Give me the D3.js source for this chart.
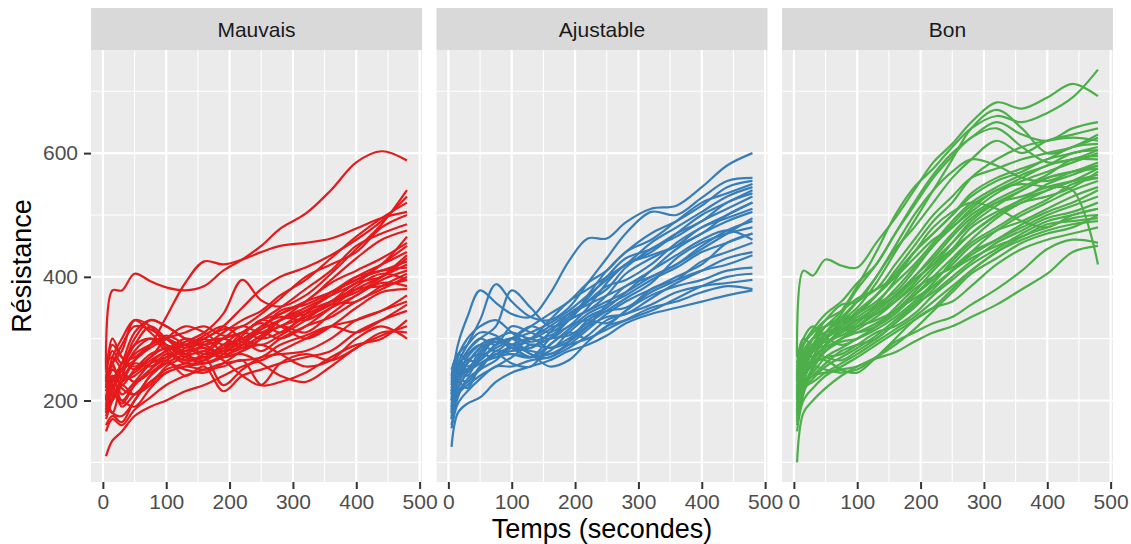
<!DOCTYPE html>
<html><head><meta charset="utf-8">
<script src="https://cdn.jsdelivr.net/npm/d3@7"></script>
<style>
html,body{margin:0;padding:0;background:#fff;}
svg{display:block;font-family:"Liberation Sans",Arial,Helvetica,sans-serif;}
</style></head>
<body>
<svg id="chart" width="1131" height="544"></svg>
<script>
// ---------------- DATA ----------------
const categories = ["Mauvais", "Ajustable", "Bon"];
const colors = ["#E41A1C", "#377EB8", "#4DAF4A"];
const timePoints = [5, 15, 30, 50, 75, 100, 130, 160, 190, 220, 250, 280, 320, 360, 400, 440, 480];
const xTicks = [0, 100, 200, 300, 400, 500];
const yTicks = [200, 400, 600];
const xLabel = "Temps (secondes)";
const yLabel = "Résistance";

const mauvais = [
  [250,378,378,405,393,383,378,385,410,428,450,478,502,540,585,603,588],
  [215,235,250,265,290,335,390,425,420,428,440,450,455,462,478,495,505],
  [200,240,225,250,275,285,295,310,340,395,362,352,370,405,445,485,540],
  [230,260,290,320,315,300,290,300,320,350,380,400,415,435,460,490,530],
  [210,200,240,280,300,290,280,290,310,330,345,370,395,430,465,495,520],
  [180,220,250,275,290,300,285,300,315,320,340,365,400,420,440,480,500],
  [245,280,260,300,330,320,300,290,300,310,330,350,380,410,450,470,485],
  [195,180,230,265,285,300,310,320,305,310,330,340,360,395,430,460,475],
  [230,300,270,250,270,285,275,280,300,285,300,330,350,370,390,420,450],
  [200,240,210,230,260,280,290,275,285,300,310,320,345,370,400,420,440],
  [170,200,230,240,260,270,280,295,300,290,305,330,340,360,390,400,430],
  [240,260,280,330,320,290,270,260,270,290,310,300,320,350,380,400,420],
  [220,250,240,260,255,270,290,300,280,290,320,335,330,350,370,395,410],
  [185,215,195,225,250,275,265,270,290,310,300,310,335,355,360,385,405],
  [205,230,260,290,300,280,260,265,290,295,280,300,320,335,360,380,400],
  [260,270,250,230,245,265,285,305,320,300,290,305,330,360,380,385,395],
  [175,205,225,210,240,260,275,285,270,280,300,320,310,340,370,390,385],
  [225,255,235,265,290,300,275,260,275,305,330,320,300,320,350,375,380],
  [110,135,150,175,190,200,215,225,240,255,265,280,300,320,330,345,370],
  [150,170,160,185,205,225,240,250,260,265,270,290,305,320,310,330,355],
  [195,225,190,210,230,250,260,270,225,250,270,275,280,300,330,345,360],
  [215,240,200,225,250,265,240,255,215,240,250,260,270,280,310,330,345],
  [160,175,165,200,230,245,255,250,255,265,225,230,245,270,290,300,330],
  [185,210,200,190,220,245,255,260,270,275,260,240,230,255,285,305,320],
  [235,260,220,210,225,255,270,280,265,240,225,260,275,265,285,310,310],
  [205,180,175,200,240,260,250,245,260,280,290,275,255,265,300,320,300],
  [250,290,270,255,270,300,320,310,290,300,320,340,360,375,395,410,415],
  [190,230,260,310,330,320,300,285,280,295,315,330,345,360,375,400,435],
  [220,270,300,330,310,285,265,275,300,320,310,330,360,390,410,430,455],
  [180,215,250,290,320,300,275,265,285,300,315,345,355,375,400,410,425],
  [240,220,260,270,290,305,290,270,280,310,325,310,340,375,395,420,465],
  [200,250,235,245,265,280,300,290,275,285,305,320,335,355,385,405,395]
];

const ajustable = [
  [225,290,335,378,358,340,335,372,425,462,462,488,510,515,545,580,600],
  [210,260,290,330,388,360,335,330,350,390,430,470,505,500,528,555,560],
  [200,250,280,300,320,378,350,320,330,370,410,440,470,490,515,545,555],
  [195,240,270,290,300,290,300,330,360,380,400,420,455,480,505,530,545],
  [180,230,260,285,295,300,310,325,345,370,395,420,440,470,500,520,540],
  [215,250,240,275,300,290,285,310,340,360,380,415,445,465,490,510,530],
  [190,220,245,265,290,300,295,305,320,350,390,420,435,450,470,500,520],
  [170,215,230,250,280,275,270,300,330,345,370,405,430,450,480,495,510],
  [230,260,250,280,295,285,270,280,310,335,350,375,410,445,470,490,505],
  [205,245,265,275,270,290,300,285,295,320,355,385,400,420,450,475,490],
  [185,230,220,255,275,280,285,300,305,325,345,365,390,430,455,470,480],
  [160,205,235,250,265,285,280,275,290,315,340,360,380,400,420,455,470],
  [240,275,265,265,290,300,275,270,295,330,345,350,375,395,425,440,455],
  [175,210,225,240,255,270,290,285,300,320,335,340,365,390,410,430,440],
  [200,235,230,255,275,260,255,290,310,300,320,345,370,385,395,410,415],
  [155,195,215,235,255,255,265,270,285,305,330,340,355,375,385,390,395],
  [215,240,250,260,270,275,270,275,290,300,315,330,350,360,375,385,380],
  [125,180,195,205,230,245,255,265,280,290,305,325,340,350,360,370,378],
  [235,265,255,270,300,290,275,255,265,295,320,330,345,365,385,400,405],
  [180,250,280,300,290,320,310,300,320,330,325,345,380,395,410,420,435],
  [250,275,290,310,305,285,300,320,340,355,370,385,410,435,460,475,460],
  [200,230,250,270,285,300,320,340,360,390,410,440,460,490,520,535,550],
  [210,270,300,320,330,310,290,300,330,360,385,395,420,455,480,500,520],
  [190,240,260,285,300,310,300,315,335,365,400,430,445,470,490,520,535],
  [220,255,275,290,280,300,320,310,330,345,360,375,400,420,445,470,495],
  [170,220,245,260,275,285,270,290,315,340,355,370,395,415,440,455,470]
];

const bon = [
  [270,410,402,428,418,415,455,495,540,585,615,650,682,672,690,712,692],
  [220,270,300,320,345,385,440,500,545,575,610,640,660,650,665,690,735],
  [240,290,315,340,360,390,420,470,520,565,600,625,650,630,620,640,650],
  [200,250,280,320,330,350,390,440,490,540,590,640,670,640,600,610,630],
  [180,230,270,300,330,360,400,445,480,520,560,590,620,600,620,630,640],
  [260,300,290,310,330,340,370,410,450,490,520,560,590,610,620,625,620],
  [210,260,280,290,310,325,355,395,440,470,500,535,560,575,590,610,615],
  [190,240,270,300,325,340,360,390,420,455,490,520,545,565,580,600,605],
  [230,280,300,310,320,335,355,375,410,450,480,505,535,555,570,585,600],
  [170,220,255,285,300,320,345,370,400,435,470,500,525,545,565,590,595],
  [250,300,320,305,315,330,350,370,395,420,455,490,520,540,560,570,585],
  [200,240,265,290,315,330,340,360,385,415,445,480,505,525,550,565,580],
  [160,210,250,280,300,310,325,345,375,410,440,470,500,520,540,555,575],
  [215,265,290,305,315,310,320,340,370,400,430,460,495,520,530,545,570],
  [185,235,260,280,295,300,315,335,360,390,425,455,480,505,525,550,560],
  [240,280,270,290,310,320,330,345,365,385,410,440,475,500,520,540,555],
  [195,230,245,270,285,300,320,345,370,395,420,450,475,490,510,530,545],
  [175,225,240,260,280,290,300,325,350,380,410,435,460,485,505,520,540],
  [225,270,290,300,290,300,320,350,380,400,415,440,460,480,500,515,530],
  [165,215,235,255,270,285,305,330,355,375,400,425,455,475,495,505,520],
  [205,245,260,270,275,290,310,320,340,370,395,420,445,470,490,500,510],
  [180,220,230,245,260,275,295,315,335,360,385,410,440,465,480,495,500],
  [235,275,280,270,265,280,300,325,355,385,410,430,450,465,485,490,495],
  [150,200,220,240,255,270,290,310,330,350,380,410,440,460,475,485,490],
  [100,180,200,220,240,255,270,290,315,345,375,405,430,455,470,480,500],
  [210,250,265,265,250,245,270,300,330,350,360,385,420,445,460,470,480],
  [190,220,240,245,250,255,268,278,295,310,320,335,355,380,405,440,450],
  [205,240,255,250,245,250,270,295,310,325,335,355,380,410,445,460,455],
  [230,270,300,330,355,360,400,450,500,540,570,590,580,560,555,570,580],
  [255,290,310,330,345,365,380,400,430,460,480,510,540,550,545,540,420],
  [200,245,280,310,340,380,420,470,515,560,595,625,640,610,585,590,605],
  [220,260,285,300,320,345,370,400,440,480,505,520,510,490,480,500,510],
  [205,255,290,320,335,360,380,420,460,500,530,560,575,590,600,610,625],
  [230,270,280,300,320,340,370,405,440,470,500,530,555,570,590,600,610],
  [180,230,265,290,310,330,350,380,415,450,485,515,540,560,580,590,590],
  [245,290,310,320,330,330,345,370,400,430,465,495,520,530,545,555,565],
  [195,240,260,280,300,315,335,360,390,425,455,485,515,540,560,570,575],
  [215,260,285,295,305,320,340,365,395,420,445,470,500,525,540,555,560]
];

const seriesByPanel = [mauvais, ajustable, bon];

// ---------------- LAYOUT ----------------
const svg = d3.select("#chart");
const panelW = 331, gap = 14.5;
const panelLeft = 91;
const stripTop = 8, stripH = 42;
const panelTop = stripTop + stripH, panelBottom = 482;

const allY = seriesByPanel.flat(2);
const yMin = d3.min(allY), yMax = d3.max(allY);
const yPad = (yMax - yMin) * 0.05;
const xMin = d3.min(timePoints), xMax = d3.max(timePoints);
const xPad = (xMax - xMin) * 0.05;

const y = d3.scaleLinear().domain([yMin - yPad, yMax + yPad]).range([panelBottom, panelTop]);
const yMinor = [100, 300, 500, 700];
const xMinorVals = [50, 150, 250, 350, 450];

categories.forEach((cat, i) => {
  const x0 = panelLeft + i * (panelW + gap);
  const x = d3.scaleLinear().domain([xMin - xPad, xMax + xPad]).range([x0, x0 + panelW]);
  const g = svg.append("g");

  g.append("rect").attr("x", x0).attr("y", panelTop).attr("width", panelW)
    .attr("height", panelBottom - panelTop).attr("fill", "#EBEBEB");

  yMinor.forEach(v => {
    g.append("line").attr("x1", x0).attr("x2", x0 + panelW)
      .attr("y1", y(v)).attr("y2", y(v)).attr("stroke", "#fff").attr("stroke-width", 1.1);
  });
  xMinorVals.forEach(v => {
    g.append("line").attr("x1", x(v)).attr("x2", x(v))
      .attr("y1", panelTop).attr("y2", panelBottom).attr("stroke", "#fff").attr("stroke-width", 1.1);
  });
  yTicks.forEach(v => {
    g.append("line").attr("x1", x0).attr("x2", x0 + panelW)
      .attr("y1", y(v)).attr("y2", y(v)).attr("stroke", "#fff").attr("stroke-width", 2.2);
  });
  xTicks.forEach(v => {
    g.append("line").attr("x1", x(v)).attr("x2", x(v))
      .attr("y1", panelTop).attr("y2", panelBottom).attr("stroke", "#fff").attr("stroke-width", 2.2);
  });

  g.append("rect").attr("x", x0).attr("y", stripTop).attr("width", panelW)
    .attr("height", stripH).attr("fill", "#D9D9D9");
  g.append("text").attr("x", x0 + panelW / 2).attr("y", stripTop + stripH / 2)
    .attr("dy", "0.36em").attr("text-anchor", "middle").attr("font-size", 21)
    .attr("fill", "#1A1A1A").text(cat);

  const line = d3.line()
    .x((d, k) => x(timePoints[k]))
    .y(d => y(d))
    .curve(d3.curveCatmullRom.alpha(0.5));
  g.append("g").selectAll("path").data(seriesByPanel[i]).join("path")
    .attr("d", line).attr("fill", "none").attr("stroke", colors[i])
    .attr("stroke-width", 2.2).attr("stroke-linejoin", "round");

  const xAxis = d3.axisBottom(x).tickValues(xTicks).tickSize(7).tickPadding(5).tickFormat(d3.format("d"));
  const ax = g.append("g").attr("transform", `translate(0,${panelBottom})`).call(xAxis);
  ax.select(".domain").remove();
  ax.selectAll(".tick line").attr("stroke", "#333333").attr("stroke-width", 2);
  ax.selectAll(".tick text").attr("fill", "#4D4D4D").attr("font-size", 21)
    .attr("font-family", "Liberation Sans, Arial, sans-serif");

  if (i === 0) {
    const yAxis = d3.axisLeft(y).tickValues(yTicks).tickSize(7).tickPadding(6);
    const ay = g.append("g").attr("transform", `translate(${x0},0)`).call(yAxis);
    ay.select(".domain").remove();
    ay.selectAll(".tick line").attr("stroke", "#333333").attr("stroke-width", 2);
    ay.selectAll(".tick text").attr("fill", "#4D4D4D").attr("font-size", 21)
      .attr("font-family", "Liberation Sans, Arial, sans-serif");
  }
});

const plotCenterX = (panelLeft + panelLeft + 3 * panelW + 2 * gap) / 2;
svg.append("text").attr("x", plotCenterX).attr("y", 538).attr("text-anchor", "middle")
  .attr("font-size", 27).attr("fill", "#000").text(xLabel);
svg.append("text").attr("transform", `translate(31,${(panelTop + panelBottom) / 2}) rotate(-90)`)
  .attr("text-anchor", "middle").attr("font-size", 27).attr("fill", "#000").text(yLabel);
</script>
</body></html>
